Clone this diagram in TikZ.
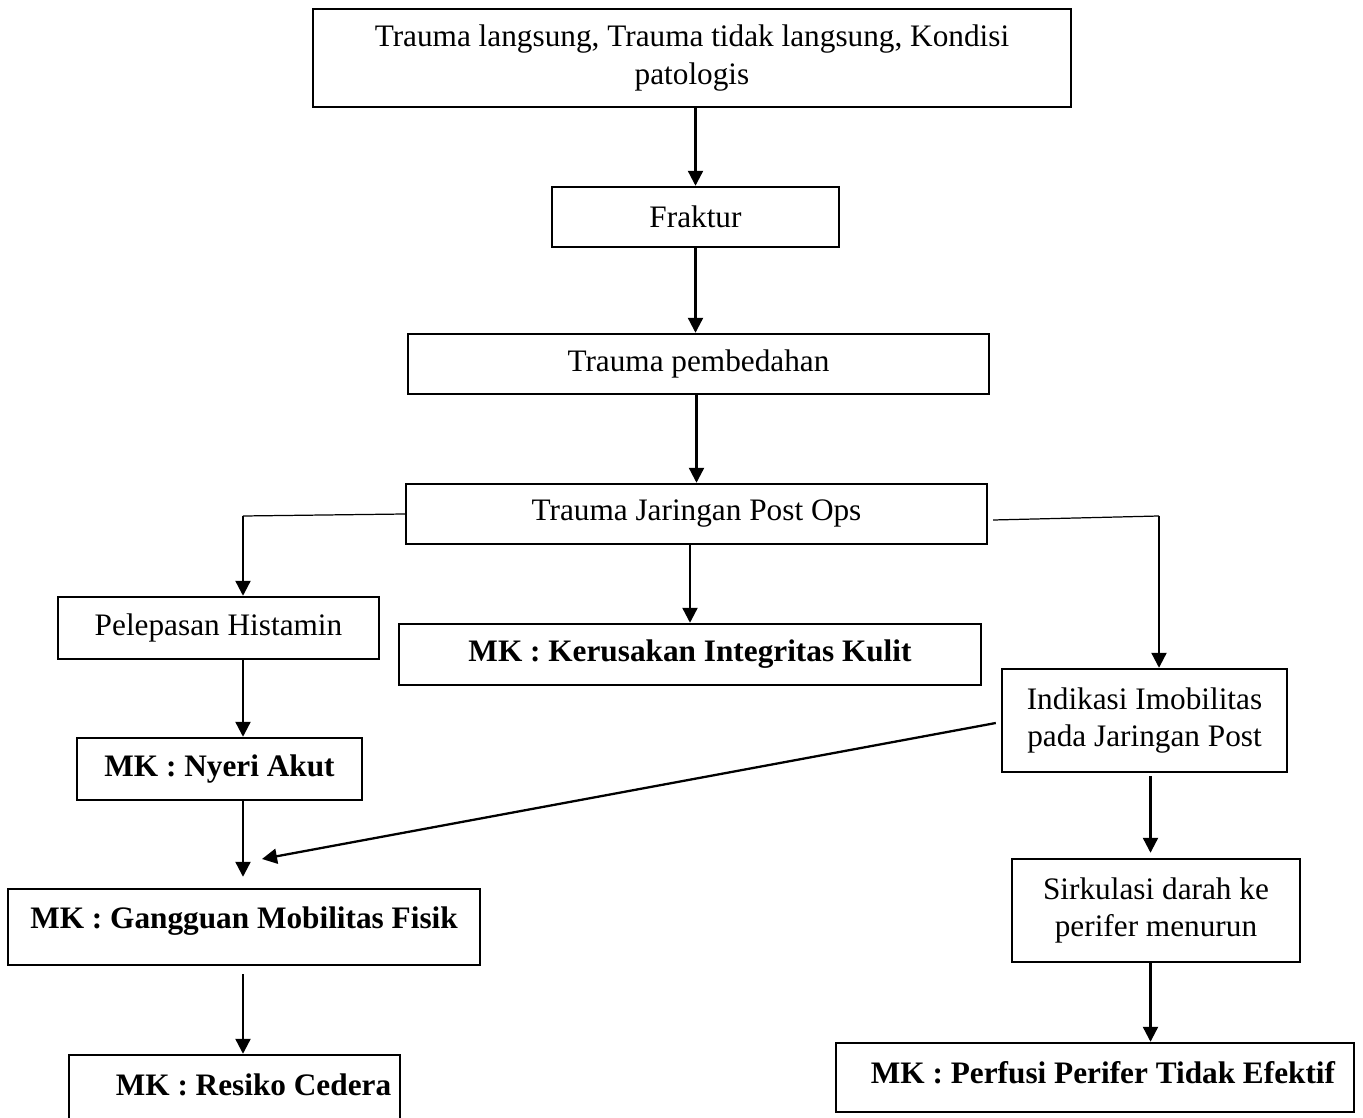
\documentclass[tikz,border=0pt]{standalone}
\usepackage{fontspec}
\setmainfont{Liberation Serif}
\usetikzlibrary{arrows.meta,positioning}

\begin{document}
\begin{tikzpicture}[
    x=0.02cm, y=-0.02cm,
    font=\fontsize{17.8}{21.6}\selectfont,
    box/.style={draw, line width=1.4pt, align=center, inner sep=0},
    mk/.style={box, font=\fontsize{17.8}{21.6}\selectfont\bfseries},
    arr/.style={line width=1.3pt, -{Triangle[length=0.3cm,width=0.3cm]}},
    tipis/.style={line width=0.7pt}]
\useasboundingbox (0,0) rectangle (1363,1118);

% kotak-kotak
\node[box, minimum width=15.16cm, minimum height=1.96cm] (sebab) at (692,58) {Trauma langsung, Trauma tidak langsung, Kondisi\\patologis};
\node[box, minimum width=5.74cm, minimum height=1.2cm] (fraktur) at (695.5,217) {Fraktur};
\node[box, minimum width=11.62cm, minimum height=1.2cm] (bedah) at (698.5,364) {Trauma pembedahan};
\node[box, minimum width=11.62cm, minimum height=1.2cm] (jaringan) at (696.5,514) {Trauma Jaringan Post Ops};
\node[box, minimum width=6.42cm, minimum height=1.24cm] (histamin) at (218.5,628) {Pelepasan Histamin};
\node[mk, minimum width=11.64cm, minimum height=1.22cm] (kulit) at (690,654.5) {MK : Kerusakan Integritas Kulit};
\node[box, minimum width=5.7cm, minimum height=2.06cm] (imobil) at (1144.5,720.5) {Indikasi Imobilitas\\pada Jaringan Post};
\node[mk, minimum width=5.7cm, minimum height=1.24cm] (nyeri) at (219.5,769) {MK : Nyeri Akut};
\node[mk, minimum width=9.44cm, text height=0.78cm, text depth=0.74cm] (mobilitas) at (244,927) {MK : Gangguan Mobilitas Fisik};
\node[box, minimum width=5.76cm, minimum height=2.06cm] (sirkulasi) at (1156,910.5) {Sirkulasi darah ke\\perifer menurun};
\node[mk, minimum width=6.62cm, text height=0.8cm, text depth=0.7cm] (cedera) at (234.5,1092.5) {\hspace*{0.76cm}MK : Resiko Cedera};
\node[mk, minimum width=10.36cm, text height=0.8cm, text depth=0.58cm] (perfusi) at (1095,1077.5) {\hspace*{0.32cm}MK : Perfusi Perifer Tidak Efektif};

\coordinate (kiri) at (243,516);
\coordinate (kanan) at (1159,516);
\coordinate (temu) at (262,859);
\coordinate (jalur) at ([xshift=0.12cm]imobil.south);

% panah
\draw[arr] (sebab.south -| fraktur.north) -- (fraktur.north);
\draw[arr] (fraktur.south) -- (fraktur.south |- bedah.north);
\draw[arr] (bedah.south -| jaringan.north) -- (jaringan.north);
\draw[arr] (jaringan.south -| kulit.north) -- (kulit.north);

\draw[tipis] (jaringan.west) -- (kiri);
\draw[arr] (kiri) -- (kiri |- histamin.north);
\draw[arr] (kiri |- histamin.south) -- (kiri |- nyeri.north);
\draw[arr, shorten >=0.22cm] (kiri |- nyeri.south) -- (kiri |- mobilitas.north);
\draw[arr, shorten <=0.16cm] (kiri |- mobilitas.south) -- (kiri |- cedera.north);

\draw[tipis] ([xshift=0.1cm, yshift=-0.12cm]jaringan.east) -- (kanan);
\draw[arr] (kanan) -- (kanan |- imobil.north);
\draw[arr] ([xshift=-0.1cm, yshift=-0.05cm]imobil.west) -- (temu);
\draw[arr, shorten <=0.06cm, shorten >=0.1cm] (jalur) -- (jalur |- sirkulasi.north);
\draw[arr] (sirkulasi.south -| jalur) -- (jalur |- perfusi.north);

\end{tikzpicture}
\end{document}
